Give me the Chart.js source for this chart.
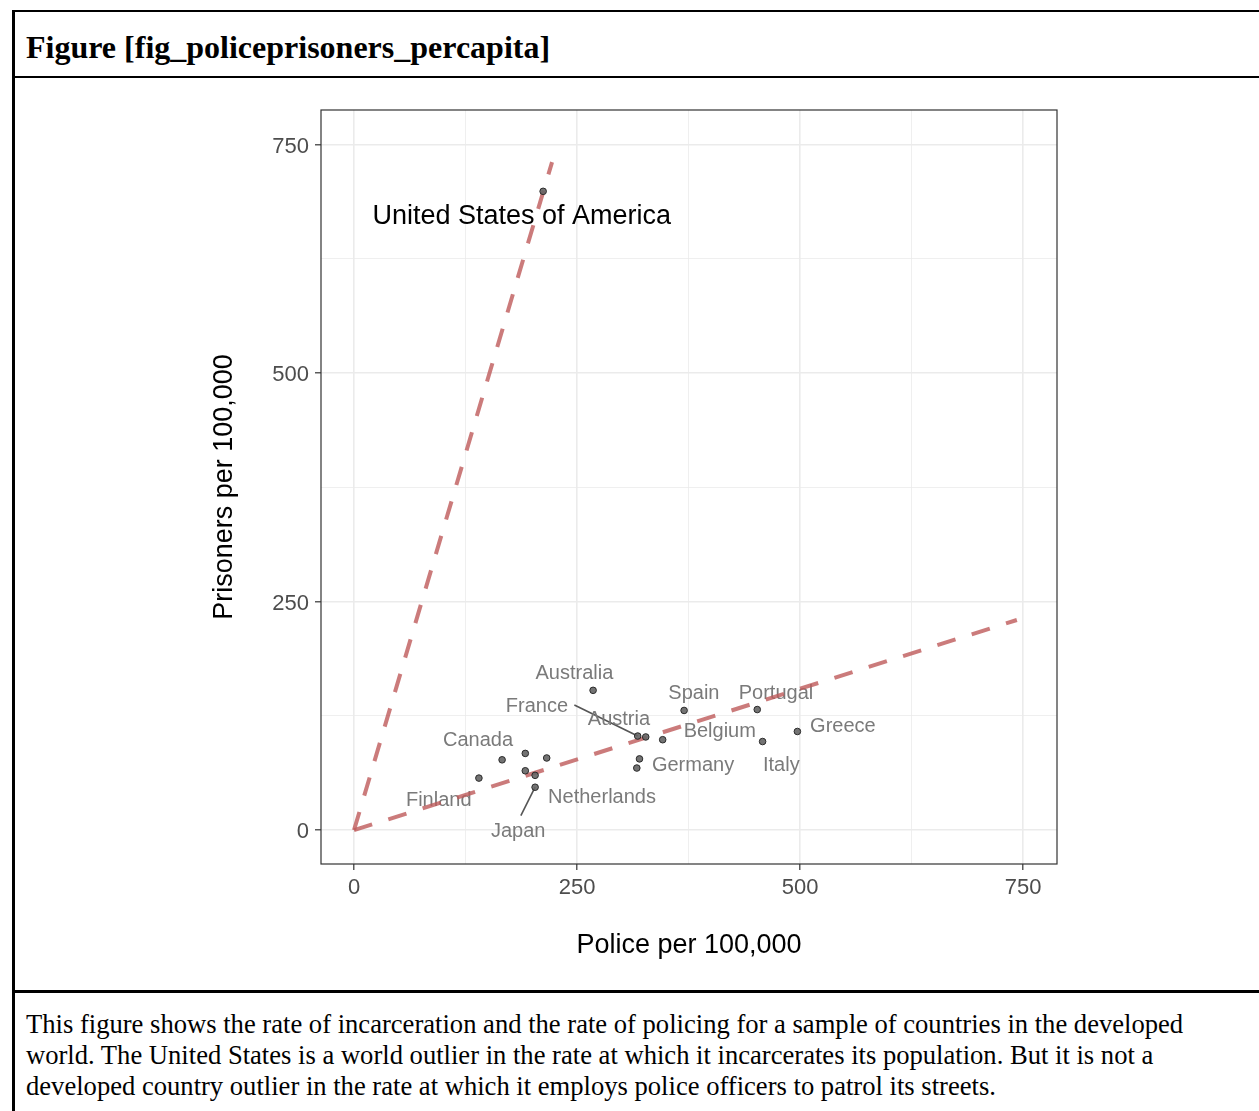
<!DOCTYPE html>
<html>
<head>
<meta charset="utf-8">
<script src="https://cdn.jsdelivr.net/npm/chart.js@4.4.1/dist/chart.umd.min.js"></script>
<style>
  body { margin: 0; background: #fff; width: 1259px; height: 1111px; overflow: hidden; position: relative; }
  .rule { position: absolute; background: #000; }
  #titulo { position: absolute; left: 26px; top: 31px; font: bold 32px "Liberation Serif", "Times New Roman", serif; line-height: 32px; color: #000; white-space: nowrap; }
  #nota { position: absolute; left: 26px; top: 1009px; font: 26.6px "Liberation Serif", "Times New Roman", serif; line-height: 31px; color: #000; white-space: nowrap; }
  #grafico { position: absolute; left: 0; top: 0; }
</style>
</head>
<body>
<div class="rule" style="left:12px; top:10px; width:1247px; height:2px;"></div>
<div class="rule" style="left:12px; top:10px; width:2.5px; height:1101px;"></div>
<div class="rule" style="left:12px; top:76px; width:1247px; height:2px;"></div>
<div class="rule" style="left:12px; top:990px; width:1247px; height:3px;"></div>
<div id="titulo">Figure [fig_policeprisoners_percapita]</div>
<canvas id="grafico" width="1259" height="990"></canvas>
<div id="nota">This figure shows the rate of incarceration and the rate of policing for a sample of countries in the developed<br>world. The United States is a world outlier in the rate at which it incarcerates its population. But it is not a<br>developed country outlier in the rate at which it employs police officers to patrol its streets.</div>

<script>
// datos (por 100,000 habitantes)
const paises = ['United States of America', 'Australia', 'France', 'Austria', 'Belgium', 'Germany', null,
                'Spain', 'Portugal', 'Italy', 'Greece', 'Canada', 'Finland', 'Japan', 'Netherlands', null, null, null];
const policia = [212, 268, 318, 327, 346, 320, 317, 370, 452, 458, 497, 192, 140, 203, 203, 166, 216, 192];
const presos  = [699, 153, 103, 102, 99, 78, 68, 131, 132, 97, 108, 84, 57, 47, 60, 77, 79, 65];

// donde quedo cada etiqueta (unidades de datos)
const etiquetaX = [188, 247, 205, 297, 410, 380, null, 381, 473, 479, 548, 139, 95, 184, 278, null, null, null];
const etiquetaY = [674, 174, 137, 123, 110, 73, null, 152, 152, 73, 116, 100, 35, 1, 38, null, null, null];

// lineas guia desde la etiqueta hasta el punto
const guiaPais = ['France', 'Japan'];
const guiaDesdeX = [247, 187];
const guiaDesdeY = [137, 16];

// rectas de referencia
const rectaEEUU_x = [0, 222];
const rectaEEUU_y = [0, 731];
const rectaResto_x = [0, 743];
const rectaResto_y = [0, 230];

const ticksEje = [0, 125, 250, 375, 500, 625, 750];

const puntos = policia.map((x, i) => ({ x: x, y: presos[i] }));
const colorRecta = 'rgba(190, 90, 90, 0.8)';
const fuente = '"Liberation Sans", Arial, sans-serif';

const anotaciones = {
    id: 'anotaciones',
    beforeDatasetsDraw(chart) {
        const ctx = chart.ctx;
        const sx = chart.scales.x, sy = chart.scales.y;
        ctx.save();
        // guias
        ctx.strokeStyle = '#555';
        ctx.lineWidth = 1.6;
        guiaPais.forEach((nombre, k) => {
            const i = paises.indexOf(nombre);
            ctx.beginPath();
            ctx.moveTo(sx.getPixelForValue(guiaDesdeX[k]), sy.getPixelForValue(guiaDesdeY[k]));
            ctx.lineTo(sx.getPixelForValue(policia[i]), sy.getPixelForValue(presos[i]));
            ctx.stroke();
        });
        ctx.textAlign = 'center';
        ctx.textBaseline = 'middle';
        paises.forEach((nombre, i) => {
            if (!nombre) return;
            const px = sx.getPixelForValue(etiquetaX[i]);
            const py = sy.getPixelForValue(etiquetaY[i]) + 2;
            if (i === 0) {
                ctx.fillStyle = '#000';
                ctx.font = '27px ' + fuente;
            } else {
                ctx.fillStyle = '#7a7a7a';
                ctx.font = '20px ' + fuente;
            }
            ctx.fillText(nombre, px, py);
        });
        ctx.restore();
    },
    afterDraw(chart) {
        const { left, top, right, bottom } = chart.chartArea;
        const ctx = chart.ctx;
        ctx.save();
        ctx.strokeStyle = '#333';
        ctx.lineWidth = 1.2;
        ctx.strokeRect(left, top, right - left, bottom - top);
        ctx.restore();
    }
};

const esMayor = v => v % 250 === 0;

function ejeComun(titulo) {
    return {
        type: 'linear',
        min: -37,
        max: 788,
        afterBuildTicks: s => { s.ticks = ticksEje.map(v => ({ value: v })); },
        border: { display: false },
        grid: {
            color: '#ebebeb',
            lineWidth: c => esMayor(c.tick.value) ? 1.6 : 0.8,
            drawTicks: true,
            tickLength: 6,
            tickWidth: 1.2,
            tickColor: c => esMayor(c.tick.value) ? '#333' : 'rgba(0,0,0,0)'
        },
        ticks: {
            color: '#4d4d4d',
            font: { family: fuente, size: 22 },
            callback: v => esMayor(v) ? String(v) : ''
        },
        title: {
            display: true,
            text: titulo,
            color: '#000',
            font: { family: fuente, size: 27 }
        }
    };
}

const ejeX = ejeComun('Police per 100,000');
ejeX.ticks.padding = 5;
ejeX.ticks.maxRotation = 0;
ejeX.title.padding = { top: 0, bottom: 2 };
ejeX.afterFit = s => { s.height = 100; };

const ejeY = ejeComun('Prisoners per 100,000');
ejeY.ticks.padding = 6;
ejeY.ticks.labelOffset = 2;
ejeY.title.padding = { top: 8, bottom: 0 };
ejeY.afterFit = s => { s.width = 121; };

new Chart(document.getElementById('grafico'), {
    type: 'scatter',
    data: {
        datasets: [
            {
                label: 'Paises',
                data: puntos,
                pointRadius: 3.3,
                pointBackgroundColor: 'rgba(100, 100, 100, 0.9)',
                pointBorderColor: '#2a2a2a',
                pointBorderWidth: 1
            },
            {
                label: 'EEUU',
                data: rectaEEUU_x.map((x, i) => ({ x: x, y: rectaEEUU_y[i] })),
                showLine: true,
                pointRadius: 0,
                borderColor: colorRecta,
                borderWidth: 4,
                borderDash: [19, 17]
            },
            {
                label: 'Resto',
                data: rectaResto_x.map((x, i) => ({ x: x, y: rectaResto_y[i] })),
                showLine: true,
                pointRadius: 0,
                borderColor: colorRecta,
                borderWidth: 4,
                borderDash: [19, 17]
            }
        ]
    },
    options: {
        responsive: false,
        animation: false,
        layout: { padding: { left: 200, top: 110, right: 202, bottom: 26 } },
        plugins: { legend: { display: false }, tooltip: { enabled: false } },
        scales: { x: ejeX, y: ejeY }
    },
    plugins: [anotaciones]
});
</script>
</body>
</html>
